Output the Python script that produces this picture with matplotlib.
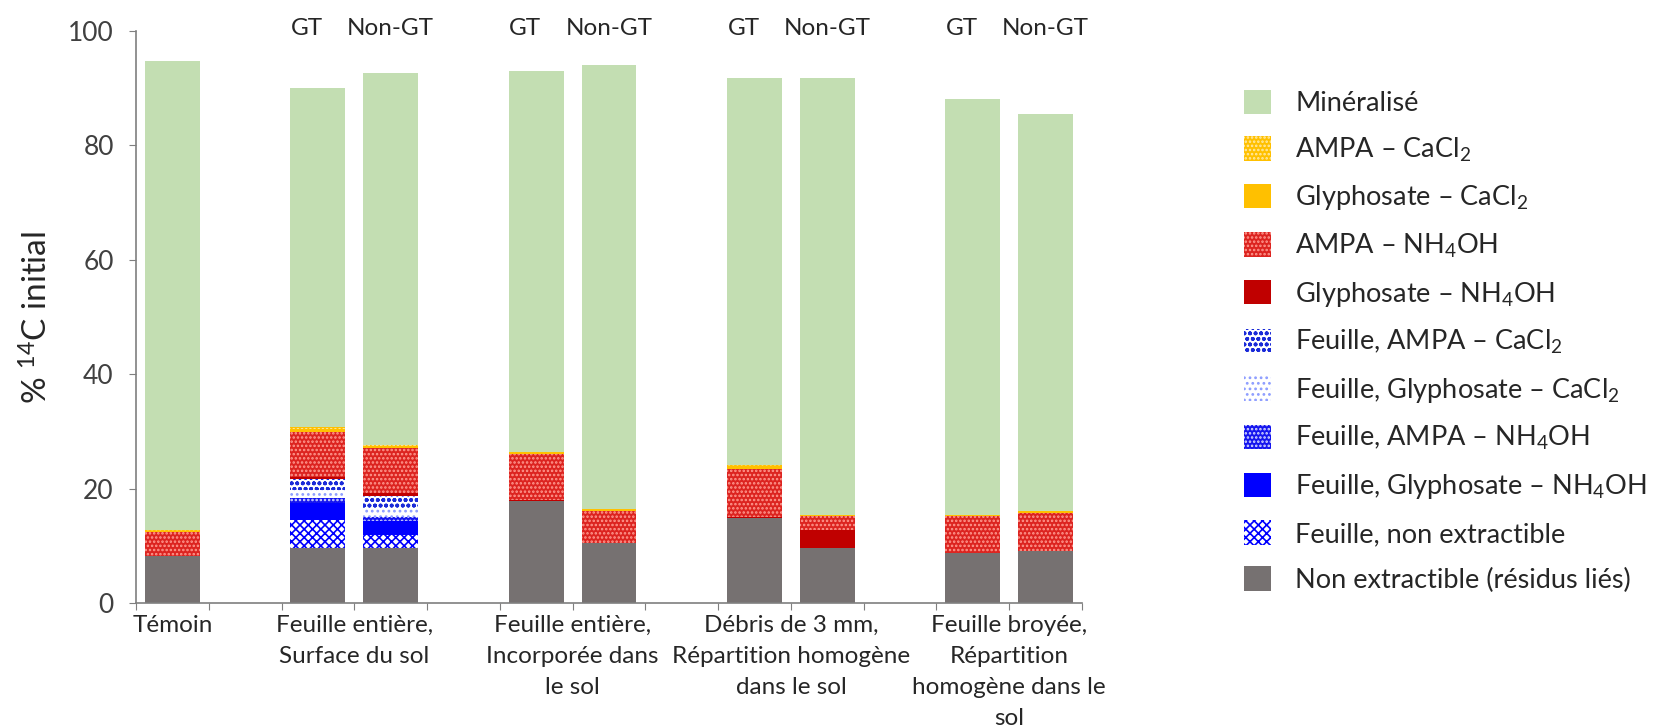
import numpy as np
import matplotlib
matplotlib.use("Agg")
import matplotlib.pyplot as plt
from matplotlib.patches import Patch

plt.rcParams['font.family'] = ['Lato', 'DejaVu Sans']
plt.rcParams['mathtext.fontset'] = 'custom'
plt.rcParams['mathtext.rm'] = 'Lato'
plt.rcParams['mathtext.it'] = 'Lato:italic'
plt.rcParams['hatch.linewidth'] = 1.2

# ----------------------------
# DATA (% of initial 14C)
# ----------------------------
# bars: Témoin, then GT / Non-GT for each of the 4 treatments
bar_pos = [0, 2, 3, 5, 6, 8, 9, 11, 12]

non_extractible  = [8.2, 9.6, 9.6, 17.8, 10.5, 14.9, 9.6, 8.8, 9.1]
f_non_extr       = [0, 5.0, 2.3, 0, 0, 0, 0, 0, 0]
f_gly_nh4oh      = [0, 3.0, 2.5, 0, 0, 0, 0, 0, 0]
f_ampa_nh4oh     = [0, 0.8, 0.6, 0, 0, 0, 0, 0, 0]
f_gly_cacl2      = [0, 1.4, 1.5, 0, 0, 0, 0, 0, 0]
f_ampa_cacl2     = [0, 1.9, 2.3, 0, 0, 0, 0, 0, 0]
gly_nh4oh        = [0, 0.3, 0.4, 0.3, 0, 0.2, 3.3, 0, 0]
ampa_nh4oh       = [4.2, 8.0, 7.9, 7.9, 5.6, 8.3, 2.3, 6.4, 6.7]
gly_cacl2        = [0.2, 0.5, 0.4, 0.3, 0.3, 0.6, 0.3, 0.3, 0.3]
ampa_cacl2       = [0.2, 0.3, 0.2, 0.1, 0, 0.2, 0, 0, 0]
mineralise       = [81.9, 59.1, 64.9, 66.6, 77.6, 67.6, 76.3, 72.6, 69.4]

group_pos = [0, 2.5, 5.5, 8.5, 11.5]
group_labels = ["Témoin",
                "Feuille entière,\nSurface du sol",
                "Feuille entière,\nIncorporée dans\nle sol",
                "Débris de 3 mm,\nRépartition homogène\ndans le sol",
                "Feuille broyée,\nRépartition\nhomogène dans le\nsol"]

# stacking order bottom -> top : (label, values, face, hatch colour, hatch)
series = [
    ("Non extractible (résidus liés)", non_extractible, '#767171', None, None),
    ("Feuille, non extractible", f_non_extr, '#ffffff', '#0000ff', 'xxxx'),
    ("Feuille, Glyphosate – NH$_4$OH", f_gly_nh4oh, '#0000ff', None, None),
    ("Feuille, AMPA – NH$_4$OH", f_ampa_nh4oh, '#1515ee', '#d8dcff', '....'),
    ("Feuille, Glyphosate – CaCl$_2$", f_gly_cacl2, '#ffffff', '#8c9cff', '...'),
    ("Feuille, AMPA – CaCl$_2$", f_ampa_cacl2, '#ffffff', '#1a2ad8', 'ooo'),
    ("Glyphosate – NH$_4$OH", gly_nh4oh, '#c00000', None, None),
    ("AMPA – NH$_4$OH", ampa_nh4oh, '#dc2420', '#ff9a90', '....'),
    ("Glyphosate – CaCl$_2$", gly_cacl2, '#ffc000', None, None),
    ("AMPA – CaCl$_2$", ampa_cacl2, '#ffc000', '#ffeaa8', '....'),
    ("Minéralisé", mineralise, '#c3deb2', None, None),
]

# ----------------------------
# PLOT
# ----------------------------
fig, ax = plt.subplots(figsize=(16.63, 7.27), dpi=100)
fig.subplots_adjust(left=0.0818, right=0.6506, bottom=0.170, top=0.958)

bottom = np.zeros(len(bar_pos))
handles = []
for name, vals, face, hcol, hatch in series:
    vals = np.array(vals)
    ax.bar(bar_pos, vals, width=0.755, bottom=bottom, color=face,
           edgecolor=hcol if hcol else face, hatch=hatch, linewidth=0)
    handles.append(Patch(facecolor=face, edgecolor=hcol if hcol else face,
                         hatch=hatch, linewidth=0, label=name))
    bottom += vals

ax.set_xlim(-0.5, 12.5)
ax.set_ylim(0, 100)
ax.set_yticks(range(0, 101, 20))
ax.set_xticks(np.arange(-0.5, 12.6, 1))
ax.set_xticklabels([])
ax.tick_params(axis='both', direction='out', length=5, color='#7f7f7f',
               labelsize=19, labelcolor='#404040')
ax.tick_params(axis='y', pad=11)
for s in ['top', 'right']:
    ax.spines[s].set_visible(False)
for s in ['left', 'bottom']:
    ax.spines[s].set_color('#7f7f7f')
    ax.spines[s].set_linewidth(1.2)

# treatment labels under the axis
for p, lab in zip(group_pos, group_labels):
    ax.text(p, -2.0, lab, ha='center', va='top', fontsize=17.5,
            color='#262626', linespacing=1.6, clip_on=False)

# GT / Non-GT labels at the top
for p in bar_pos[1:]:
    if p in (2, 5, 8, 11):
        ax.text(p - 0.15, 100.4, "GT", ha='center', va='center',
                fontsize=17.5, color='#262626', clip_on=False)
    else:
        ax.text(p, 100.4, "Non-GT", ha='center', va='center',
                fontsize=17.5, color='#262626', clip_on=False)

fig.text(0.0223, 0.564, "% $^{14}$C initial", rotation=90, ha='center',
         va='center', fontsize=24, color='#262626')

fig.legend(handles[::-1], [h.get_label() for h in handles[::-1]],
           loc='upper left', bbox_to_anchor=(0.748, 0.8765), frameon=False,
           fontsize=19.5, handlelength=1.0, handleheight=1.0,
           labelspacing=0.72, handletextpad=0.9, borderpad=0,
           borderaxespad=0, labelcolor='#262626')

plt.savefig("out.png", dpi=100)
